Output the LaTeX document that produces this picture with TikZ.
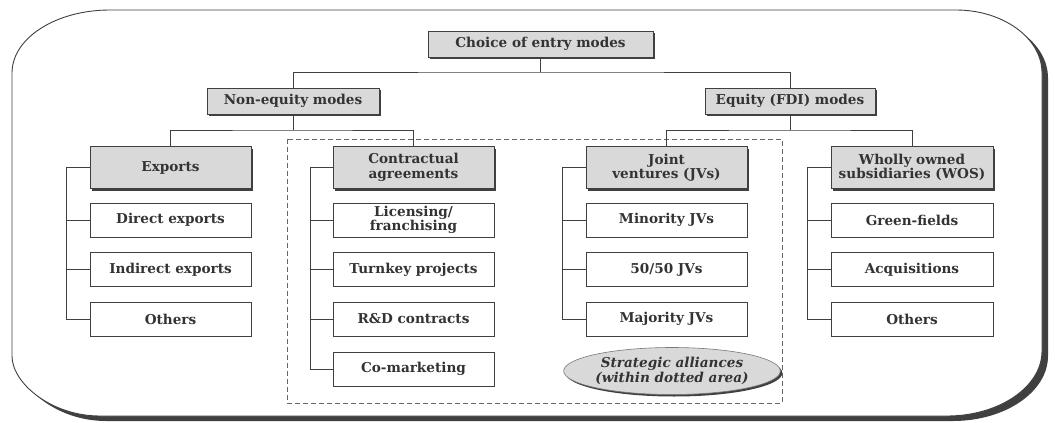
\documentclass[tikz,border=0pt]{standalone}
\usepackage{fontspec}
\setmainfont{DejaVu Serif}
\usetikzlibrary{shadows,shapes.geometric}
\definecolor{linegray}{HTML}{404040}
\definecolor{boxfill}{HTML}{D9D9D9}
\definecolor{txtgray}{HTML}{333333}
\tikzset{
  headbox/.style={rectangle, draw=linegray, line width=0.9pt, fill=boxfill,
    minimum width=161pt, minimum height=42pt, align=center, inner sep=2pt,
    text=txtgray, font=\fontsize{13.6}{14.5}\selectfont\bfseries,
    drop shadow={shadow xshift=2.2pt, shadow yshift=-2.2pt, fill=linegray, opacity=1}},
  topbox/.style={headbox, minimum height=26pt},
  leafbox/.style={rectangle, draw=linegray, line width=0.9pt, fill=white,
    minimum width=161pt, minimum height=34pt, align=center, inner sep=2pt,
    text=txtgray, font=\fontsize{13.6}{14.5}\selectfont\bfseries},
  conn/.style={draw=linegray, line width=1pt},
}
\begin{document}
\begin{tikzpicture}[x=1pt,y=-1pt]
\useasboundingbox (0,0) rectangle (1055,423);
% outer frame shadow
\fill[linegray, shift={(6,5)}] (12,73) .. controls (12,38) and (56,10) .. (110,10) -- (956,10) .. controls (1003,10) and (1042,38) .. (1042,73) -- (1042,351) .. controls (1042,387) and (999,416) .. (947,416) -- (100,416) .. controls (51,416) and (12,383) .. (12,356) -- cycle;
% outer frame
\draw[linegray, line width=0.9pt, fill=white] (12,73) .. controls (12,38) and (56,10) .. (110,10) -- (956,10) .. controls (1003,10) and (1042,38) .. (1042,73) -- (1042,351) .. controls (1042,387) and (999,416) .. (947,416) -- (100,416) .. controls (51,416) and (12,383) .. (12,356) -- cycle;
% dashed area
\draw[linegray!80, line width=0.9pt, dash pattern=on 5pt off 3pt] (287,139) rectangle (782,403);

% level 0/1
\node[topbox, minimum width=225pt] (top) at (540.5,44) {Choice of entry modes};
\node[topbox, minimum width=172pt] (noneq) at (293,101) {Non-equity modes};
\node[topbox, minimum width=170pt] (eq) at (790,101) {Equity (FDI) modes};
% level 2
\node[headbox] (exports) at (170.5,167.5) {Exports};
\node[headbox] (contract) at (413.5,167.5) {Contractual\\agreements};
\node[headbox] (jv) at (666.5,167.5) {Joint\\ventures (JVs)};
\node[headbox, minimum width=162pt] (wos) at (912,167.5) {Wholly owned\\subsidiaries (WOS)};
% leaves
\node[leafbox] (ex1) at (170.5,220) {Direct exports};
\node[leafbox] (ex2) at (170.5,269.5) {Indirect exports};
\node[leafbox] (ex3) at (170.5,319) {Others};
\node[leafbox] (ca1) at (413.5,220) {Licensing/\\franchising};
\node[leafbox] (ca2) at (413.5,269.5) {Turnkey projects};
\node[leafbox] (ca3) at (413.5,319) {R\&D contracts};
\node[leafbox] (ca4) at (413.5,369) {Co-marketing};
\node[leafbox] (jv1) at (666.5,220) {Minority JVs};
\node[leafbox] (jv2) at (666.5,269.5) {50/50 JVs};
\node[leafbox] (jv3) at (666.5,319) {Majority JVs};
\node[leafbox, minimum width=162pt] (wo1) at (912,220) {Green-fields};
\node[leafbox, minimum width=162pt] (wo2) at (912,269.5) {Acquisitions};
\node[leafbox, minimum width=162pt] (wo3) at (912,319) {Others};
% ellipse
\node[ellipse, draw=linegray!70, line width=0.6pt, fill=boxfill, minimum width=180pt, minimum height=47pt,
  align=center, inner sep=0pt, text=txtgray, font=\fontsize{13.6}{14.5}\selectfont\bfseries\itshape,
  drop shadow={shadow xshift=2pt, shadow yshift=-2pt, fill=linegray, opacity=1}] (sa) at (672,371)
  {Strategic alliances\\(within dotted area)};

% connectors
\coordinate (b1) at (540.5,72);
\coordinate (b2) at (293,130);
\coordinate (b3) at (790,130);
\draw[conn] (top.south) -- (b1);
\draw[conn] (noneq.north) |- (b1) -| (eq.north);
\draw[conn] (noneq.south) -- (b2);
\draw[conn] (exports.north) |- (b2) -| (contract.north);
\draw[conn] (eq.south) -- (b3);
\draw[conn] (jv.north) |- (b3) -| (wos.north);

\coordinate (vex) at (66,167.5);
\coordinate (vca) at (310,167.5);
\coordinate (vjv) at (562,167.5);
\coordinate (vwo) at (807,167.5);
\draw[conn] (exports.west) -- (vex) |- (ex3.west);
\draw[conn] (ex1.west) -- (ex1.west -| vex);
\draw[conn] (ex2.west) -- (ex2.west -| vex);
\draw[conn] (contract.west) -- (vca) |- (ca4.west);
\draw[conn] (ca1.west) -- (ca1.west -| vca);
\draw[conn] (ca2.west) -- (ca2.west -| vca);
\draw[conn] (ca3.west) -- (ca3.west -| vca);
\draw[conn] (jv.west) -- (vjv) |- (jv3.west);
\draw[conn] (jv1.west) -- (jv1.west -| vjv);
\draw[conn] (jv2.west) -- (jv2.west -| vjv);
\draw[conn] (wos.west) -- (vwo) |- (wo3.west);
\draw[conn] (wo1.west) -- (wo1.west -| vwo);
\draw[conn] (wo2.west) -- (wo2.west -| vwo);
\end{tikzpicture}
\end{document}
